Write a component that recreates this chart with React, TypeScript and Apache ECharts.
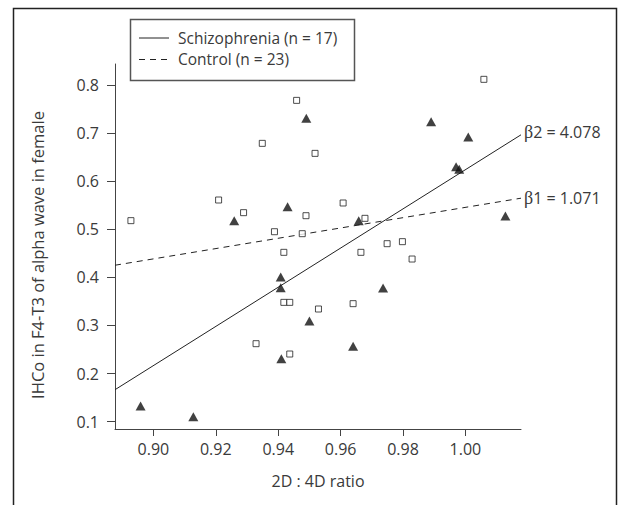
import React, { useEffect, useRef } from "react";
import * as echarts from "echarts";

// Schizophrenia (filled triangles)
const schizX = [0.8959, 0.9128, 0.9259, 0.943, 0.949, 0.9408, 0.9408, 0.95, 0.941, 0.964, 0.9658, 0.9736, 0.989, 1.0009, 0.997, 0.998, 1.0128];
const schizY = [0.1326, 0.1104, 0.518, 0.547, 0.7307, 0.4008, 0.3786, 0.3093, 0.231, 0.2567, 0.518, 0.378, 0.7238, 0.6919, 0.63, 0.6247, 0.5276];

// Control (open squares)
const ctrlX = [0.8928, 0.9209, 0.9289, 0.9349, 0.9459, 0.9518, 0.9388, 0.9477, 0.9489, 0.9418, 0.9608, 0.9678, 0.9665, 0.9749, 0.9798, 0.9829, 1.0059, 0.9418, 0.9437, 0.9529, 0.964, 0.9329, 0.9437];
const ctrlY = [0.518, 0.5609, 0.5346, 0.6787, 0.7681, 0.6579, 0.495, 0.4909, 0.5283, 0.4521, 0.5547, 0.5228, 0.4521, 0.4701, 0.4743, 0.4382, 0.8118, 0.3481, 0.3481, 0.3343, 0.3454, 0.2622, 0.2407];

// Regression line end points
const schizFitX = [0.8877, 1.0178];
const schizFitY = [0.1665, 0.6965];
const ctrlFitX = [0.8877, 1.0178];
const ctrlFitY = [0.4253, 0.5647];

const xTicks = [0.9, 0.92, 0.94, 0.96, 0.98, 1.0];
const yTicks = [0.1, 0.2, 0.3, 0.4, 0.5, 0.6, 0.7, 0.8];

const schizName = "Schizophrenia (n = 17)";
const ctrlName = "Control (n = 23)";
const schizBeta = "2 = 4.078";
const ctrlBeta = "1 = 1.071";

const FONT = "'Open Sans'";
const FS = 16;
const TXT = "#3a3a3a";
const AX = "#444";

export default function App() {
  const ref = useRef<HTMLDivElement>(null);
  useEffect(() => {
    if (!ref.current) return;
    const chart = echarts.init(ref.current, null, { renderer: "svg" });
    const zip = (a: number[], b: number[]) => a.map((v, i) => [v, b[i]]);
    const endLabel = (beta: string, offY: number) => ({
      show: true,
      distance: 3,
      offset: [0, offY],
      formatter: "{b|β}{t|" + beta + "}",
      color: TXT,
      rich: {
        b: { fontFamily: "'Liberation Serif'", fontSize: 18, color: TXT },
        t: { fontFamily: FONT, fontSize: FS, color: TXT },
      },
    });
    chart.setOption({
      animation: false,
      backgroundColor: "#fff",
      grid: { left: 115, right: 97, top: 64, bottom: 76 },
      xAxis: {
        type: "value",
        min: 0.8877,
        max: 1.0178,
        name: "2D : 4D ratio",
        nameLocation: "middle",
        nameGap: 44,
        nameTextStyle: { color: TXT, fontFamily: FONT, fontSize: FS },
        axisLine: { show: true, onZero: false, lineStyle: { color: AX, width: 1 } },
        axisTick: { show: true, length: 7, lineStyle: { color: AX }, customValues: xTicks },
        axisLabel: {
          color: TXT,
          fontFamily: FONT,
          fontSize: FS,
          margin: 12,
          customValues: xTicks,
          formatter: (v: number) => v.toFixed(2),
        },
        splitLine: { show: false },
      },
      yAxis: {
        type: "value",
        min: 0.0848,
        max: 0.8437,
        axisLine: { show: true, onZero: false, lineStyle: { color: AX, width: 1 } },
        axisTick: { show: true, length: 8, lineStyle: { color: AX }, customValues: yTicks },
        axisLabel: {
          color: TXT,
          fontFamily: FONT,
          fontSize: FS,
          margin: 16,
          customValues: yTicks,
          formatter: (v: number) => v.toFixed(1),
        },
        splitLine: { show: false },
      },
      graphic: [
        {
          type: "rect",
          shape: { x: 13.5, y: 8.5, width: 603, height: 520 },
          style: { fill: "none", stroke: "#222", lineWidth: 1.5 },
          silent: true,
        },
        {
          type: "rect",
          shape: { x: 130.5, y: 19.5, width: 224, height: 61 },
          style: { fill: "#fff", stroke: "#555", lineWidth: 1.5 },
          z: 10,
        },
        {
          type: "line",
          shape: { x1: 139, y1: 38, x2: 169, y2: 38 },
          style: { stroke: "#222", lineWidth: 1 },
          z: 11,
        },
        {
          type: "line",
          shape: { x1: 139, y1: 59.5, x2: 169, y2: 59.5 },
          style: { stroke: "#222", lineWidth: 1, lineDash: [6, 5] },
          z: 11,
        },
        {
          type: "text",
          x: 178,
          y: 38,
          style: { text: schizName, fill: TXT, font: `15.5px ${FONT}`, verticalAlign: "middle", align: "left" },
          z: 11,
        },
        {
          type: "text",
          x: 178,
          y: 59,
          style: { text: ctrlName, fill: TXT, font: `15.5px ${FONT}`, verticalAlign: "middle", align: "left" },
          z: 11,
        },
        {
          type: "text",
          x: 37,
          y: 255,
          rotation: Math.PI / 2,
          style: {
            text: "IHCo in F4-T3 of alpha wave in female",
            fill: TXT,
            font: `16.5px ${FONT}`,
            align: "center",
            verticalAlign: "middle",
          },
        },
      ],
      series: [
        {
          name: "Schizophrenia fit",
          type: "line",
          data: zip(schizFitX, schizFitY),
          symbol: "none",
          clip: false,
          lineStyle: { color: "#222", width: 1 },
          endLabel: endLabel(schizBeta, -3),
          z: 1,
        },
        {
          name: "Control fit",
          type: "line",
          data: zip(ctrlFitX, ctrlFitY),
          symbol: "none",
          clip: false,
          lineStyle: { color: "#222", width: 1, type: [6, 5] },
          endLabel: endLabel(ctrlBeta, 0),
          z: 1,
        },
        {
          name: schizName,
          type: "scatter",
          data: zip(schizX, schizY),
          symbol: "triangle",
          symbolSize: [10, 9],
          itemStyle: { color: "#111" },
          z: 3,
        },
        {
          name: ctrlName,
          type: "scatter",
          data: zip(ctrlX, ctrlY),
          symbol: "rect",
          symbolSize: 6,
          itemStyle: { color: "#fff", borderColor: "#222", borderWidth: 1 },
          z: 4,
        },
      ],
    });
    return () => chart.dispose();
  }, []);
  return (
    <div
      ref={ref}
      style={{ position: "fixed", left: 0, top: 0, width: 618, height: 505, background: "#fff" }}
    />
  );
}
